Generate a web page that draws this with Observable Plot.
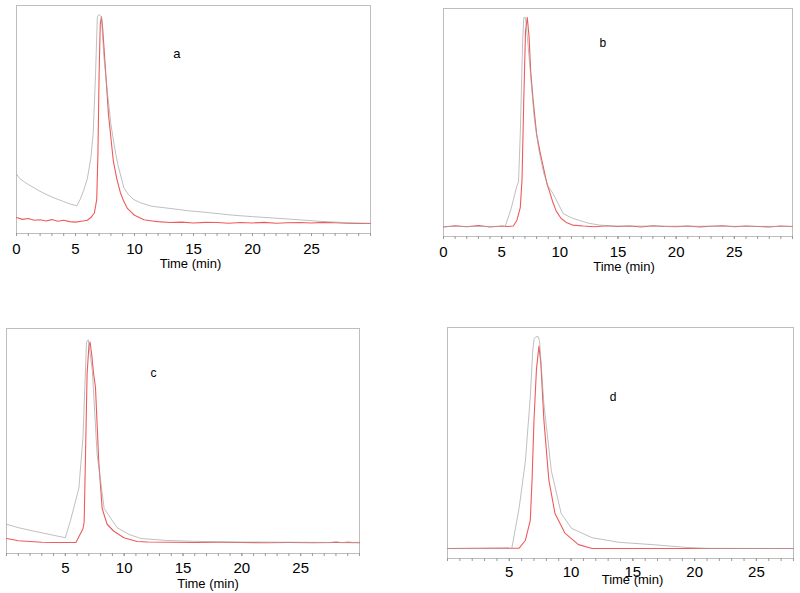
<!DOCTYPE html>
<html>
<head>
<meta charset="utf-8">
<script src="https://cdn.jsdelivr.net/npm/d3@7"></script>
<script src="https://cdn.jsdelivr.net/npm/@observablehq/plot@0.6"></script>
<style>
  html, body { margin: 0; padding: 0; background: #fff; }
  #wrap { position: relative; width: 800px; height: 593px; font-family: "Liberation Sans", Arial, sans-serif; }
  .panel { position: absolute; }
</style>
</head>
<body>
<div id="wrap"></div>
<script>
// ---------- data (time in min, signal in % of panel height) ----------
const panelNames = ["a", "b", "c", "d"];
const xLabel = "Time (min)";
const majorTicksA = [0, 5, 10, 15, 20, 25];
const majorTicksC = [5, 10, 15, 20, 25];

// Panel a
const redA_t = [0,0.5,1,1.5,2,2.5,3,3.5,4,4.5,5,5.5,6,6.3,6.6,6.8,6.9,7.0,7.1,7.2,7.3,7.5,7.8,8.0,8.2,8.5,8.8,9.1,9.4,9.7,10.0,10.4,10.8,11.5,12,13,14,15,16,17,18,19,20,21,22,23,24,25,26,27,28,29,30];
const redA_y = [7.0,6.2,6.6,5.8,6.0,5.5,6.1,5.4,5.8,5.2,5.0,5.4,5.8,7,9,15,35,70,92,95,90,75,52,42,32,24,18,14,11,9.5,8,7,6,5.5,5.2,4.8,5.0,4.6,4.9,4.8,4.5,4.8,4.6,4.9,4.5,4.7,4.8,4.6,4.9,4.7,4.5,4.4,4.4];
const grayA_t = [0,0.3,0.7,1,1.5,2,2.5,3,3.5,4,4.5,5,5.1,5.4,5.7,6.0,6.3,6.5,6.7,6.85,7.0,7.2,7.4,7.7,8.0,8.3,8.6,9.1,9.5,9.9,10.5,11.4,12,13,14.5,16,18.4,20,22.6,24,25.8,27,28,30];
const grayA_y = [26,24,22.5,21.5,20,18.5,17.2,16,15,14,13,12.3,12,15,19,24,33,44,70,95,96,95,78,62,48,38,30,20,17,15,13.5,12,11.6,11,10,9.3,8,7.4,6.5,6,5.3,5,4.7,4.5];

// Panel b
const redB_t = [0,1,2,3,4,5,5.5,6.0,6.3,6.6,6.75,6.9,7.05,7.2,7.35,7.5,7.7,8.0,8.3,8.6,8.9,9.1,9.4,9.7,10.1,10.6,11.1,12,13,14,15,16,17,18,19,20,21,22,23,24,25,26,27,28,29,30];
const redB_y = [4.2,4.7,4.3,4.8,4.2,4.6,4.4,4.6,7,12.7,25,60,90,96,88,72,60,45,37,30,23,20,15,11,8,6,5,4.6,4.3,4.7,4.4,4.6,4.2,4.7,4.4,4.3,4.6,4.2,4.5,4.7,4.3,4.6,4.4,4.2,4.6,4.4];
const grayB_t = [0,5.3,5.8,6.3,6.45,6.6,6.8,6.9,7.05,7.2,7.5,7.8,8.2,8.6,9.0,9.4,10.3,11.0,11.7,12.5,13.4,14.5,30];
const grayB_y = [4.4,4.4,12,22,24,45,85,96,96,88,70,52,38,28,22,19,10,8.2,7,5.8,5,4.6,4.4];

// Panel c
const redC_t = [0,0.5,1,2,3,4,5,5.9,6.3,6.5,6.6,6.7,6.85,7.0,7.1,7.25,7.4,7.56,7.84,8.13,8.55,9.1,9.97,11.1,12,14,16,18,20,22,24,26,28,30];
const redC_y = [6.7,6.2,5.7,5.3,5.0,4.9,4.9,4.9,9,11,14,40,80,92,94,88,80,74,41,20,13,10,7,5.3,5.1,5.0,4.9,5.0,4.9,4.8,4.9,4.8,4.9,4.8];
const grayC_t = [0,1,2,3,4,5,5.44,6.15,6.5,6.8,6.95,7.3,7.7,8.3,9.4,10.4,11.4,13.6,16,20,25,27.5,28,28.5,29,29.5,30];
const grayC_y = [13,11.5,10.3,9.2,8.1,7,14.7,29,51.5,94,95,81,44,20,11.5,8.5,6.7,5.8,5.4,5.1,5.0,4.9,5.3,4.8,5.2,4.9,5.0];

// Panel d
const redD_t = [0,5.8,6.3,6.7,6.85,7.0,7.2,7.4,7.55,7.8,8.2,8.7,9.5,10.6,11.7,28];
const redD_y = [4.3,4.5,7.8,16.5,35,60,82,92,85,60,34,19.5,11,6,4.3,4.3];
const grayD_t = [0,5.2,5.8,6.3,6.7,6.9,7.0,7.15,7.35,7.45,7.8,8.4,9.2,10.05,11.7,13.9,16.6,19.3,21,28];
const grayD_y = [4.3,4.3,22,42,70,90,95,96,96,94,67,38,19.5,13,9,7,6,4.8,4.4,4.3];

// label anchor positions (data coordinates)
const labelPosX = [13.6, 13.7, 12.5, 13.4];
const labelPosY = [79, 84.6, 80, 70];

// ---------- build ----------
const toRows = (ts, ys) => ts.map((t, i) => ({t, v: ys[i]}));
const panels = [
  {red: toRows(redA_t, redA_y), gray: toRows(grayA_t, grayA_y), xmax: 30, majors: majorTicksA},
  {red: toRows(redB_t, redB_y), gray: toRows(grayB_t, grayB_y), xmax: 30, majors: majorTicksA},
  {red: toRows(redC_t, redC_y), gray: toRows(grayC_t, grayC_y), xmax: 30, majors: majorTicksC},
  {red: toRows(redD_t, redD_y), gray: toRows(grayD_t, grayD_y), xmax: 28, majors: majorTicksC}
];
const layout = [
  {left: 0,   top: 0,   width: 380, height: 275, mL: 16, mR: 10, mT: 5, mB: 42, pad: 7, labDx: -3,  labDy: 4,  fs: 13},
  {left: 420, top: 0,   width: 380, height: 280, mL: 23, mR: 8,  mT: 8, mB: 44, pad: 7, labDx: 6,   labDy: 4,  fs: 12},
  {left: 0,   top: 320, width: 380, height: 273, mL: 6,  mR: 21, mT: 8, mB: 40, pad: 6, labDx: 25,  labDy: 4,  fs: 12},
  {left: 420, top: 320, width: 380, height: 273, mL: 27, mR: 7,  mT: 7, mB: 35, pad: 5, labDx: 12,  labDy: -5, fs: 12}
];

const wrap = document.getElementById("wrap");
panels.forEach((p, i) => {
  const L = layout[i];
  const minor = d3.range(0, p.xmax + 0.001, 1);
  const chart = Plot.plot({
    width: L.width,
    height: L.height,
    marginLeft: L.mL, marginRight: L.mR, marginTop: L.mT, marginBottom: L.mB,
    style: {fontFamily: "'Liberation Sans', Arial, sans-serif", background: "transparent", color: "#000"},
    x: {domain: [0, p.xmax]},
    y: {domain: [0, 100], axis: null},
    marks: [
      Plot.frame({stroke: "#bdbdbd", strokeWidth: 1}),
      Plot.axisX({ticks: minor, tickSize: 3, tickFormat: () => "", stroke: "#999", label: null}),
      Plot.axisX({ticks: p.majors, tickSize: 3, tickPadding: L.pad, fontSize: 15, stroke: "#999", fill: "#000", label: null}),
      Plot.line(p.red, {x: "t", y: "v", stroke: "#ef5a5a", strokeWidth: 1.1}),
      Plot.line(p.gray, {x: "t", y: "v", stroke: "#a3a3a3", strokeWidth: 0.7}),
      Plot.text([panelNames[i]], {x: labelPosX[i], y: labelPosY[i], text: d => d, fontSize: L.fs, fill: "#000"}),
      Plot.text([xLabel], {frameAnchor: "bottom", text: d => d, dx: L.labDx, dy: 30 + L.labDy, fontSize: 13, fill: "#000"})
    ]
  });
  const div = document.createElement("div");
  div.className = "panel";
  div.style.left = L.left + "px";
  div.style.top = L.top + "px";
  div.appendChild(chart);
  wrap.appendChild(div);
});
</script>
</body>
</html>
